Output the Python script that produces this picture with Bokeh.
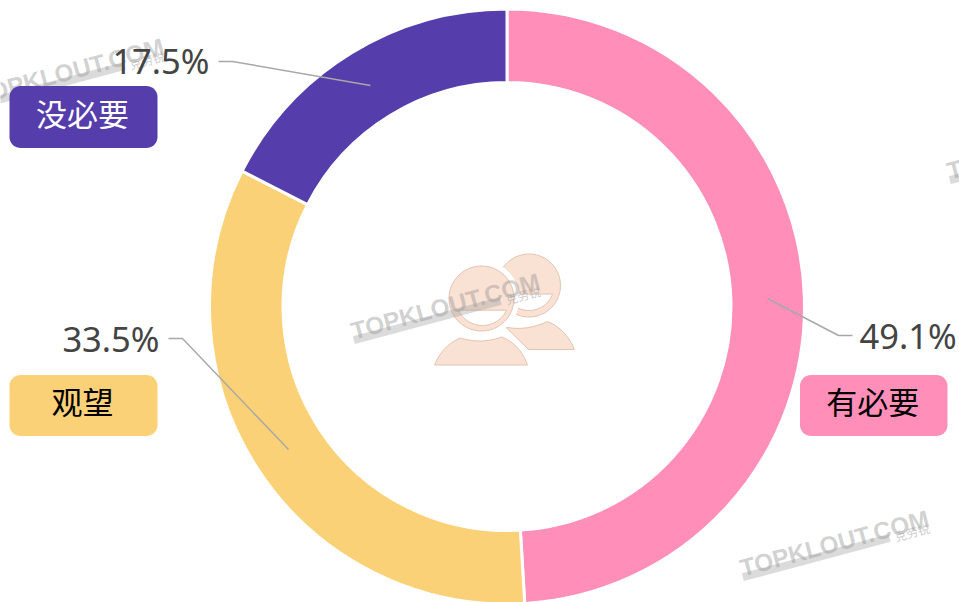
import math
import numpy as np
from bokeh.plotting import figure
from bokeh.embed import file_html
from bokeh.resources import INLINE
from bokeh.core.properties import value

categories = ["有必要", "观望", "没必要"]
shares = [49.1, 33.5, 17.5]
share_labels = ["49.1%", "33.5%", "17.5%"]
colors = ["#FF8FB8", "#FBD178", "#553DAB"]
label_colors = ["#000000", "#000000", "#FFFFFF"]
watermark = "TOPKLOUT.COM"
watermark_cn = "克劳锐"

W, H = 959, 602
CX, CY, R_OUT, R_IN = 506.5, 306, 297.5, 224


def Y(py):
    return H - py


p = figure(width=W, height=H, x_range=(0, W), y_range=(0, H), toolbar_location=None,
           output_backend="svg", min_border=0, outline_line_color=None,
           background_fill_color="white", border_fill_color="white")
p.axis.visible = False
p.grid.visible = False

# ---- donut
total = sum(shares)
edges = np.cumsum([0] + shares) / total * 2 * math.pi
starts = [math.pi / 2 - a for a in edges[:-1]]
ends = [math.pi / 2 - a for a in edges[1:]]
p.annular_wedge(x=CX, y=Y(CY), inner_radius=R_IN, outer_radius=R_OUT, start_angle=starts, end_angle=ends,
                direction="clock", fill_color=colors, line_color="white", line_width=3)


def circle_pts(cx, cy, r, n=90):
    a = np.radians(np.linspace(0, 360, n))
    return list(cx + r * np.cos(a)), list(Y(cy) - r * np.sin(a))


def smile(cx, cy, r, deg):
    a = np.radians(np.linspace(-deg, -180 + deg, 40))
    return list(cx + r * np.cos(a)), list(Y(cy) + r * np.sin(a))


def bez(a, c, b, n=14):
    t = np.linspace(0, 1, n)
    xs = (1 - t) ** 2 * a[0] + 2 * t * (1 - t) * c[0] + t ** 2 * b[0]
    ys = (1 - t) ** 2 * a[1] + 2 * t * (1 - t) * c[1] + t ** 2 * b[1]
    return list(xs), [Y(v) for v in ys]


def chain(*segs):
    xs, ys = [], []
    for s in segs:
        u, v = bez(*s)
        xs += u
        ys += v
    return xs, ys


ICON_FILL, ICON_LINE = "#F9E1D3", "#E3C3B2"


def poly(xs, ys, fill, line=None, lw=1):
    p.patch(xs, ys, fill_color=fill, line_color=line, line_width=lw, line_join="round")


# back person
xs, ys = circle_pts(528.5, 285, 31.5)
poly(xs, ys, ICON_FILL, ICON_LINE)
xs, ys = chain(((505, 326.5), (525, 331), (547, 321)), ((547, 321), (565, 328), (574, 349)))
poly(xs + [528], ys + [Y(349)], ICON_FILL, ICON_LINE)
xs, ys = smile(528.5, 285, 25, 20)
poly(xs, ys, "white", ICON_LINE)
# gap around front person
xs, ys = circle_pts(481, 298, 38)
poly(xs, ys, "white")
front_body = chain(((434, 364.5), (443, 344), (460, 337.5)), ((460, 337.5), (481, 344), (501, 336.5)),
                   ((501, 336.5), (519, 343), (527, 364.5)))
poly(*front_body, "white", "white", 11)
# front person
xs, ys = circle_pts(481, 298, 32.5)
poly(xs, ys, ICON_FILL, ICON_LINE)
xs, ys = smile(482, 298.5, 26.5, 25)
poly(xs, ys, "white", ICON_LINE)
poly(*front_body, ICON_FILL, ICON_LINE)


# ---- watermarks
def wm(x, y):
    ang = math.radians(15)
    c, s = math.cos(ang), math.sin(ang)
    p.text([x], [Y(y)], text=[watermark], angle=ang, text_font=value("Liberation Sans"),
           text_font_style="bold", text_font_size="24.4px", text_color="#9a9a9a", text_alpha=0.45,
           text_align="left", text_baseline="alphabetic")
    L, h = 152, 8
    bx = [0, L, L, 0]
    by = [-5, -5, -5 - h, -5 - h]
    p.patch([x + u * c - v * s for u, v in zip(bx, by)], [Y(y) + u * s + v * c for u, v in zip(bx, by)],
            fill_color="#9a9a9a", fill_alpha=0.36, line_color=None)
    p.text([x + 157 * c + 9 * s], [Y(y) + 157 * s - 9 * c], text=[watermark_cn], angle=ang,
           text_font=value("Noto Sans CJK SC"), text_font_size="12px", text_color="#9a9a9a", text_alpha=0.5,
           text_baseline="middle")


wm(351, 331)
wm(740, 568)
wm(-25, 96)
wm(947, 171)

# ---- leader lines
lead_x = [[767, 838, 852], [288, 182, 168], [370, 232, 218]]
lead_y = [[298, 335, 335], [449, 338, 338], [85, 61, 61]]
p.multi_line(lead_x, [[Y(v) for v in l] for l in lead_y], line_color="#A8A8A8", line_width=1.5)

# ---- share labels
p.text([859, 159, 209], [Y(335), Y(338), Y(60)], text=share_labels, text_font=value("Noto Sans"),
       text_font_size="34.5px", text_color="#444444", text_align=["left", "right", "right"], text_baseline="middle")


# ---- category boxes
def rrect(x0, y0, x1, y1, r=11):
    px, py = [], []
    for cx, cy, a0 in [(x1 - r, y1 - r, -90), (x1 - r, y0 + r, 0), (x0 + r, y0 + r, 90), (x0 + r, y1 - r, 180)]:
        a = np.radians(np.linspace(a0, a0 + 90, 10))
        px += list(cx + r * np.cos(a))
        py += list(Y(cy) + r * np.sin(a))
    return px, py


boxes = [(799.5, 374.5, 947, 435.5), (9, 374.5, 157, 435.5), (9, 85.5, 157, 147.5)]
for (x0, y0, x1, y1), col, tc, name in zip(boxes, colors, label_colors, categories):
    xs, ys = rrect(x0, y0, x1, y1)
    p.patch(xs, ys, fill_color=col, line_color=None)
    p.text([(x0 + x1) / 2 - 1], [Y((y0 + y1) / 2 - 5)], text=[name], text_font=value("Noto Sans CJK SC"),
           text_font_size="31px", text_color=tc, text_align="center", text_baseline="middle")

open("out.html", "w").write(file_html(p, INLINE))
